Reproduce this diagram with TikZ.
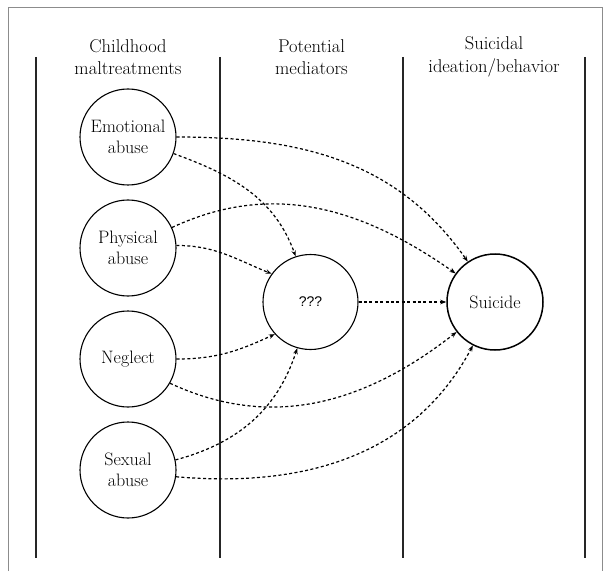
\documentclass[tikz,border=0pt]{standalone}
\usepackage{fontspec}
\newfontfamily\qmarkfont{Liberation Sans}
\usepackage{tikz}
\usetikzlibrary{arrows.meta, positioning}

\begin{document}
\begin{tikzpicture}[
    x=1pt, y=1pt,
    header/.style={align=center, font=\fontsize{18.5}{22.5}\selectfont},
    factor/.style={circle, draw=black, line width=1.1pt, minimum size=96pt, inner sep=0pt, align=center, font=\fontsize{18}{20.5}\selectfont},
    mediator/.style={circle, draw=black, line width=1.1pt, minimum size=95pt, inner sep=0pt, font=\qmarkfont\fontsize{14}{16}\selectfont},
    outcome/.style={circle, draw=black, line width=1.5pt, minimum size=96pt, inner sep=0pt, font=\fontsize{18}{21}\selectfont},
    colline/.style={draw=black!85, line width=1.1pt},
    arrow/.style={-{Stealth[length=6pt, width=4.5pt]}, line width=1.2pt, dash pattern=on 3pt off 2.4pt}
]
\useasboundingbox (0,0) rectangle (604,571);

% Frame
\draw[draw=black!45, line width=1pt] (8,0) -- (8,563) -- (602,563) -- (602,0);

% Columns
\foreach \xpos in {36, 220, 403, 585}
    \draw[colline] (\xpos,514) -- (\xpos,13);

% Column headers
\node[header] (head_child) at (128,514) {Childhood\\maltreatments};
\node[header] (head_med) at (311.5,514) {Potential\\mediators};
\node[header] (head_suic) at (494,514) {Suicidal\\ideation/behavior};

% Maltreatment nodes
\node[factor] (emotional) at (128,434) {Emotional\\abuse};
\node[factor] (physical) at (128,323) {Physical\\abuse};
\node[factor] (neglect) at (128,212) {Neglect};
\node[factor] (sexual) at (128,101) {Sexual\\abuse};

% Mediator and outcome
\node[mediator] (mediator) at (310.5,269) {???};
\node[outcome] (suicide) at (495,269) {Suicide};

% Direct paths
\draw[arrow] (emotional.0) to[out=0, in=125] (suicide.124);
\draw[arrow] (physical.25) to[out=25, in=145] (suicide.144);
\draw[arrow] (neglect.-30) to[out=-25, in=218] (suicide.218);
\draw[arrow] (sexual.-8) to[out=-5, in=242] (suicide.243);

% Paths through mediator
\draw[arrow] (emotional.-20) to[out=-20, in=110] (mediator.108);
\draw[arrow] (physical.3) to[out=0, in=158] (mediator.144);
\draw[arrow] (neglect.0) to[out=0, in=205] (mediator.222);
\draw[arrow] (sexual.12) to[out=15, in=252] (mediator.254);
\draw[arrow] (mediator) -- (suicide);

\end{tikzpicture}
\end{document}
